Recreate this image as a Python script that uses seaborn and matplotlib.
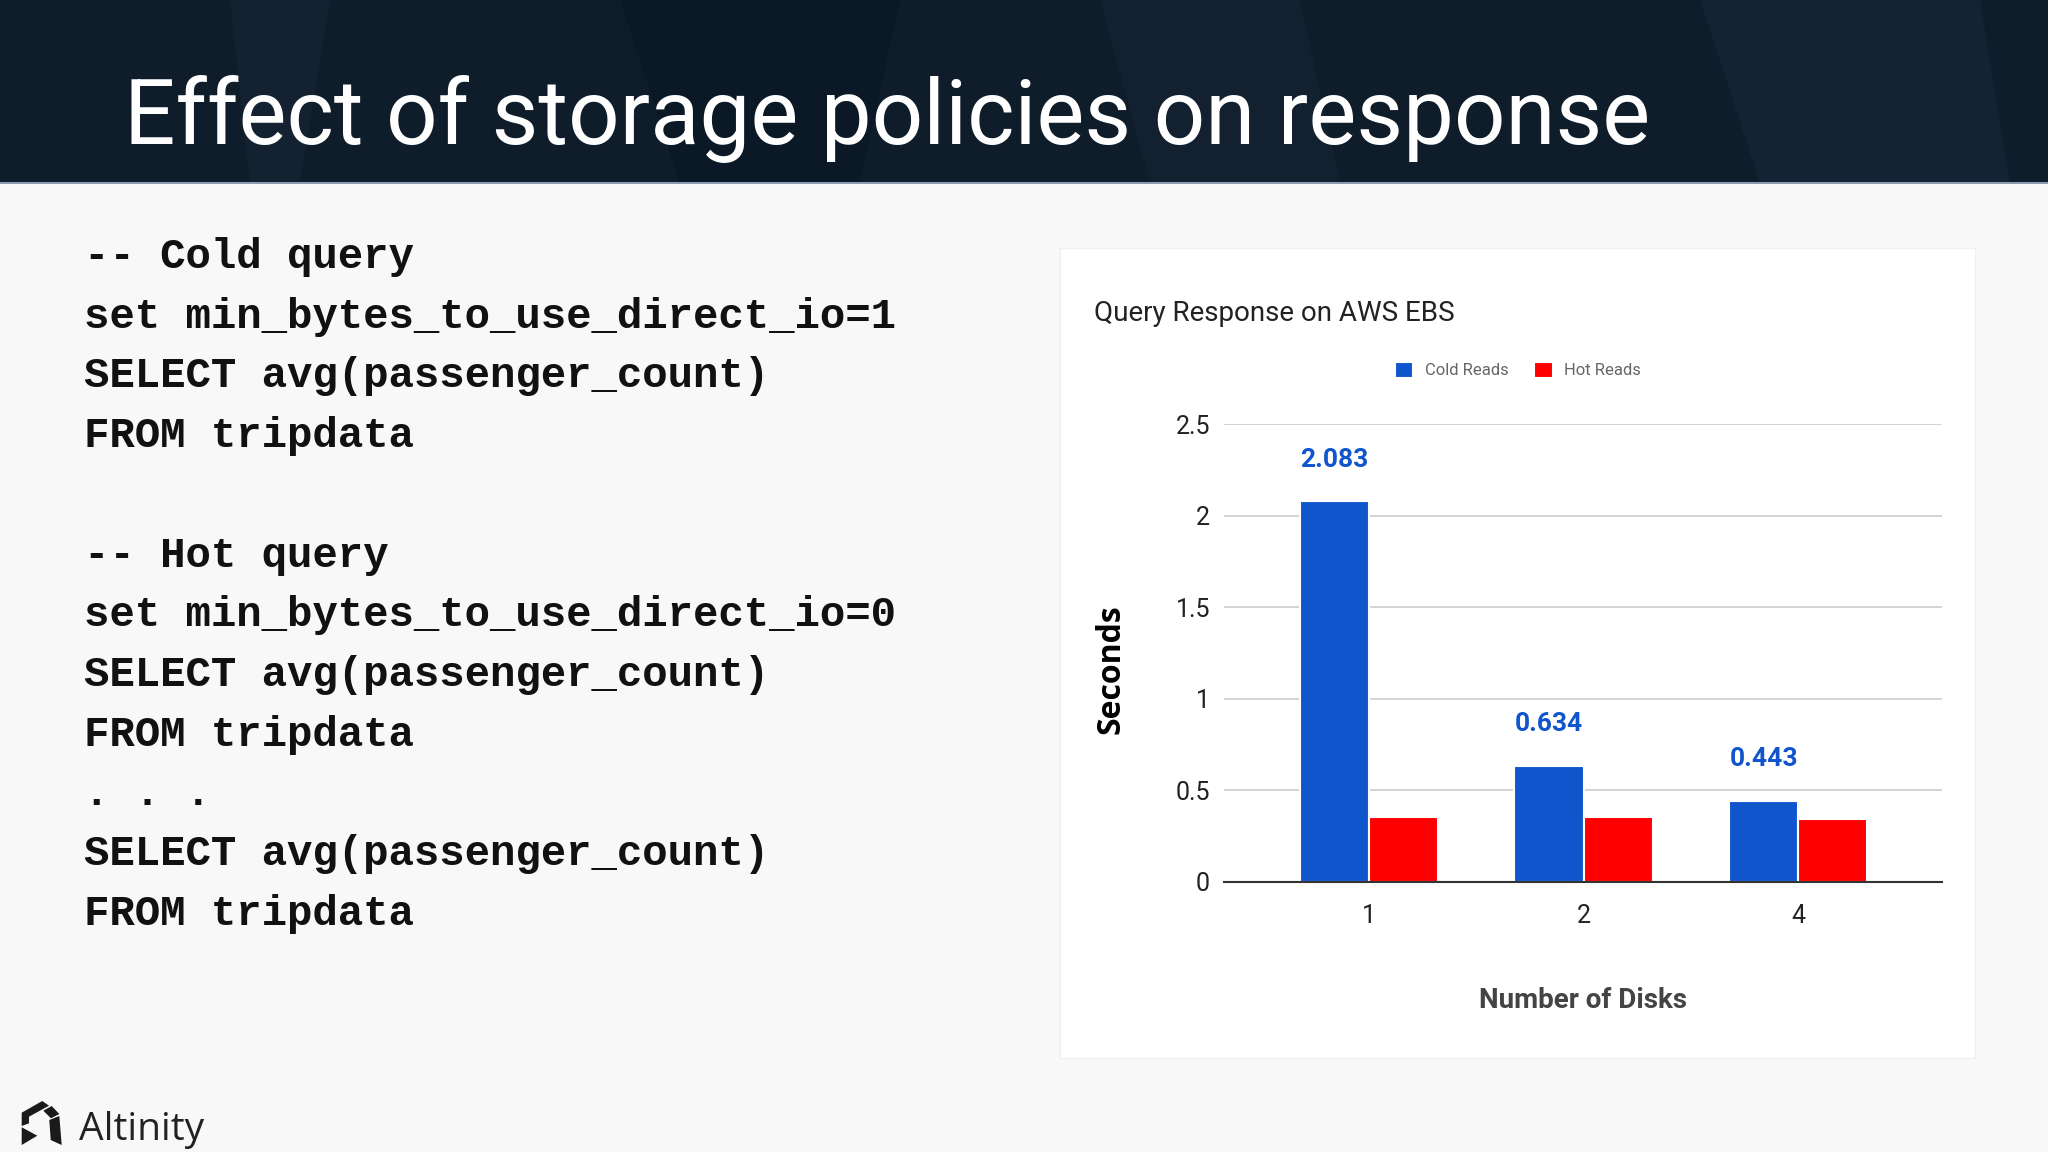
import pandas as pd
import numpy as np
import matplotlib
matplotlib.use('Agg')
import matplotlib.pyplot as plt
from matplotlib.patches import Rectangle, Polygon
import seaborn as sns

# same look for everything, fonts set after the theme
sns.set_theme(style='white')
plt.rcParams['font.family'] = ['Roboto', 'DejaVu Sans']

# chart data
disks = ['1', '2', '4']
cold_reads = [2.083, 0.634, 0.443]
hot_reads = [0.353, 0.353, 0.342]
y_ticks = [0, 0.5, 1, 1.5, 2, 2.5]
y_tick_labels = ['0', '0.5', '1', '1.5', '2', '2.5']

code_lines = ['-- Cold query',
              'set min_bytes_to_use_direct_io=1',
              'SELECT avg(passenger_count)',
              'FROM tripdata',
              '',
              '-- Hot query',
              'set min_bytes_to_use_direct_io=0',
              'SELECT avg(passenger_count)',
              'FROM tripdata',
              '. . .',
              'SELECT avg(passenger_count)',
              'FROM tripdata']

# long format for seaborn
df = pd.DataFrame({'Disks': disks * 2,
                   'Seconds': cold_reads + hot_reads,
                   'Reads': ['Cold Reads'] * 3 + ['Hot Reads'] * 3})

W, H = 2048, 1152
fig = plt.figure(figsize=(W / 100, H / 100), dpi=100, facecolor='#f8f8f8')

def fx(px):
    return px / W

def fy(py):
    return 1 - py / H

# dark header band with some faint shapes
fig.patches.append(Rectangle((0, fy(183)), 1, 183 / H, transform=fig.transFigure,
                             facecolor='#0f1c2a', edgecolor='none', zorder=-3))
for pts, c in [([(230, 0), (330, 0), (300, 183), (250, 183)], '#132131'),
               ([(620, 0), (900, 0), (860, 183), (680, 183)], '#0b1825'),
               ([(1100, 0), (1300, 0), (1340, 183), (1150, 183)], '#122030'),
               ([(1700, 0), (1980, 0), (2010, 183), (1760, 183)], '#142233')]:
    fig.patches.append(Polygon([(fx(a), fy(b)) for a, b in pts], closed=True,
                               transform=fig.transFigure, facecolor=c,
                               edgecolor='none', zorder=-2))
fig.patches.append(Rectangle((0, fy(184)), 1, 2 / H, transform=fig.transFigure,
                             facecolor='#8c9bb0', edgecolor='none', zorder=-1))
fig.text(fx(124), fy(144), 'Effect of storage policies on response', fontsize=65.2,
         color='white', va='baseline', ha='left')

# code block on the left
for i, line in enumerate(code_lines):
    fig.text(fx(84), fy(268 + 59.7 * i), line, family=['Liberation Mono', 'DejaVu Sans Mono'],
             fontweight='bold', fontsize=30.5, color='#111111', va='baseline', ha='left')

# white card behind the chart
fig.patches.append(Rectangle((fx(1060), fy(1058)), 915 / W, 810 / H, transform=fig.transFigure,
                             facecolor='white', edgecolor='#f0f0f0', lw=1, zorder=-3))
fig.text(fx(1094), fy(321), 'Query Response on AWS EBS', fontsize=20, color='#222222',
         va='baseline', ha='left')

ax = fig.add_axes([fx(1224), fy(881.5), (1942 - 1224) / W, (881.5 - 424.5) / H], zorder=1)
ax.set_facecolor('white')
sns.barplot(data=df, x='Disks', y='Seconds', hue='Reads', ax=ax, width=0.645,
            palette={'Cold Reads': '#1155cc', 'Hot Reads': '#ff0000'},
            edgecolor='white', linewidth=1.5, saturation=1)

ax.set_ylim(0, 2.5)
ax.set_xlim(-0.675, 2.67)
ax.set_yticks(y_ticks)
ax.set_yticklabels(y_tick_labels)
ax.yaxis.grid(True, color='#cccccc', linewidth=1.2)
ax.set_axisbelow(True)
sns.despine(ax=ax, left=True, top=True, right=True)
ax.spines['bottom'].set_color('#333333')
ax.spines['bottom'].set_linewidth(1.5)
ax.tick_params(axis='y', length=0, pad=10, labelsize=18, labelcolor='#222222')
ax.tick_params(axis='x', length=0, pad=16, labelsize=18, labelcolor='#222222')

ax.bar_label(ax.containers[0], fmt='%.3f', padding=21, color='#1155cc',
             fontweight='bold', fontsize=19)

ax.set_ylabel('Seconds', fontweight='bold', fontsize=23, color='black',
              family=['Open Sans', 'DejaVu Sans'])
ax.yaxis.set_label_coords(-0.135, 0.465)
ax.set_xlabel('Number of Disks', fontweight='bold', fontsize=20, color='#444444')
ax.xaxis.set_label_coords(0.5, -0.231)

sns.move_legend(ax, 'center', bbox_to_anchor=(fx(1518), fy(370)),
                bbox_transform=fig.transFigure, ncol=2, frameon=False, title=None,
                fontsize=12, handlelength=1.1, handleheight=1.1,
                columnspacing=1.55, handletextpad=0.7)
for t in ax.get_legend().get_texts():
    t.set_color('#666666')

# Altinity logo, bottom left (rough shapes)
logo = [[(21.7, 1112.7), (42.3, 1101.0), (49.0, 1105.7), (29.0, 1116.7), (29.0, 1123.3), (21.7, 1126.0)],
        [(21.7, 1127.3), (37.3, 1135.7), (21.7, 1145.0)],
        [(43.3, 1110.7), (51.7, 1106.0), (59.3, 1114.0), (51.0, 1118.3)],
        [(49.3, 1120.0), (59.3, 1116.0), (61.7, 1145.0), (50.7, 1140.0)]]
for shape in logo:
    fig.patches.append(Polygon([(fx(a), fy(b)) for a, b in shape], closed=True,
                               transform=fig.transFigure, facecolor='#1a1a1a',
                               edgecolor='none', zorder=2))
fig.text(fx(79), fy(1140), 'Altinity', fontsize=28, color='#222222', va='baseline',
         ha='left', family=['Open Sans', 'DejaVu Sans'])

fig.savefig('out.png', dpi=100, facecolor=fig.get_facecolor())
